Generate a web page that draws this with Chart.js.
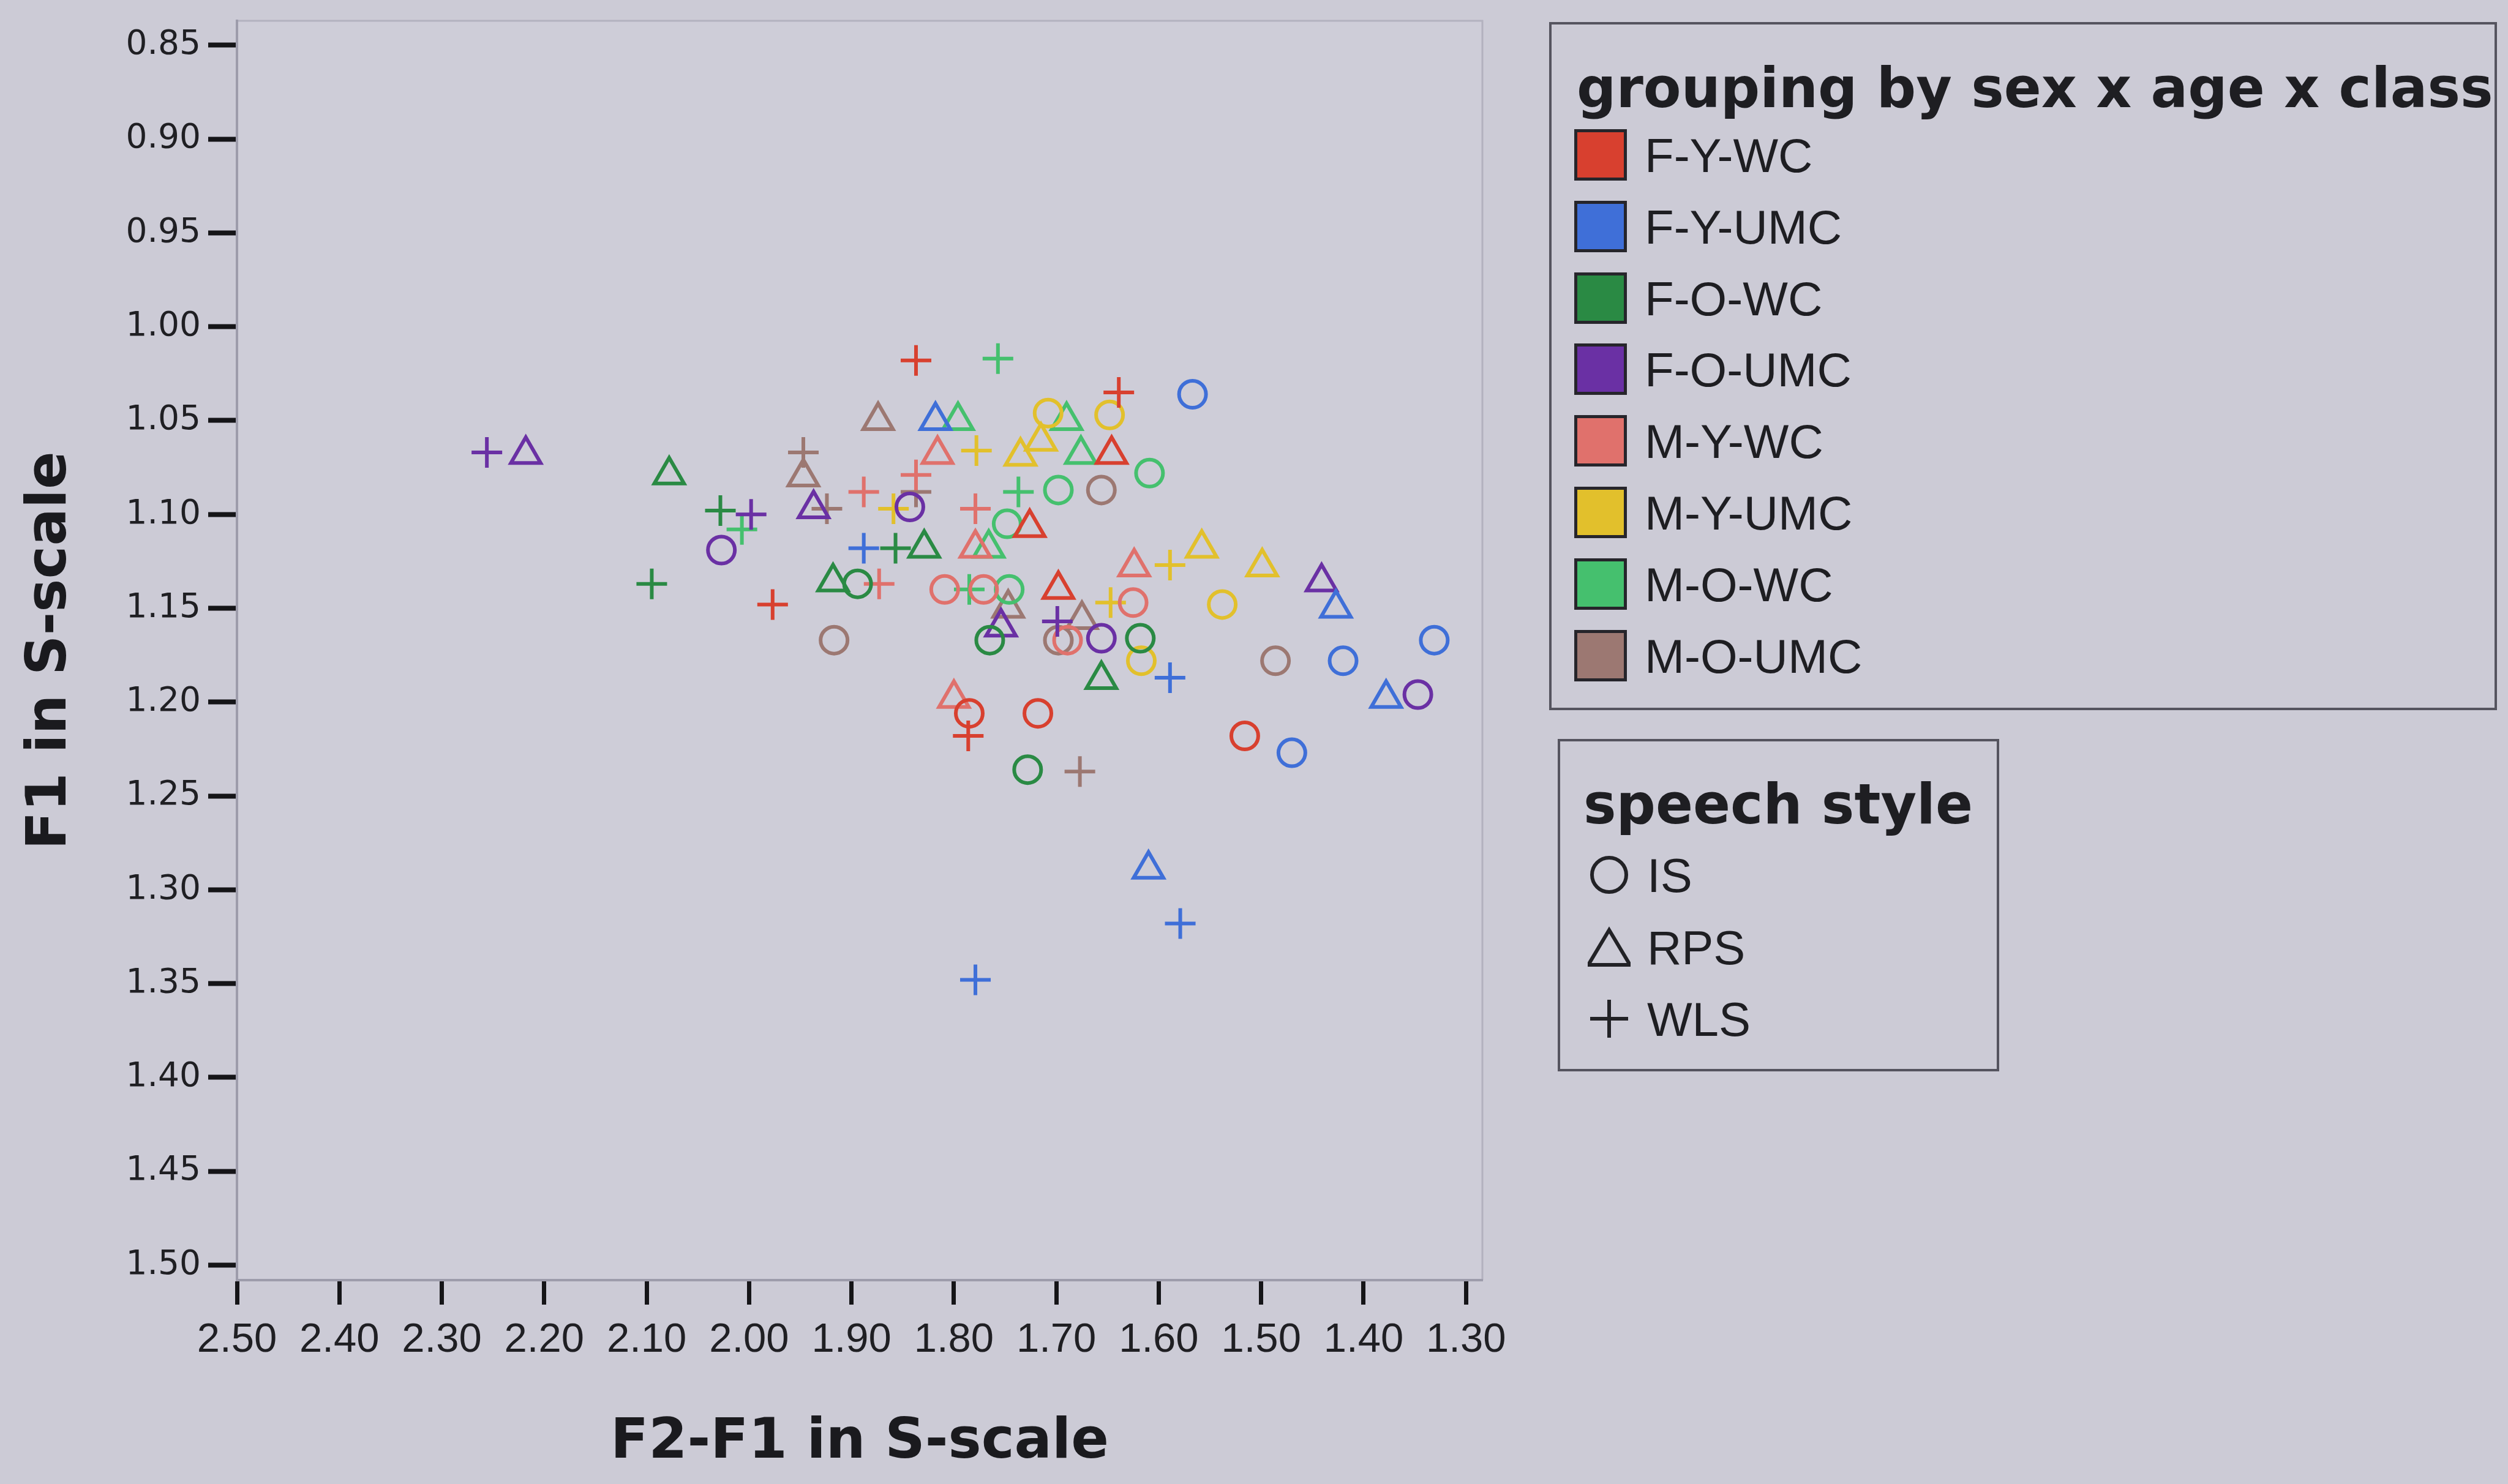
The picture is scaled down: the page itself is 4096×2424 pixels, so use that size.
<!DOCTYPE html>
<html>
<head>
<meta charset="utf-8">
<script src="https://cdn.jsdelivr.net/npm/chart.js@4.4.1/dist/chart.umd.min.js"></script>
<style>
  html, body { margin: 0; padding: 0; background: #cccbd6; }
  #wrap { position: relative; width: 4096px; height: 2424px; overflow: hidden; }
  #grafico { position: absolute; left: 0; top: 0; }
  .caixa { position: absolute; border: 4px solid #55545f; box-sizing: border-box; }
  .txt { position: absolute; white-space: nowrap; line-height: 1; color: #1e1e22; }
  .titulo { font-family: 'DejaVu Sans', sans-serif; font-weight: bold; font-size: 90px; }
  .item { font-family: 'Liberation Sans', Arial, sans-serif; font-size: 78px; }
  .quadrado { position: absolute; width: 86px; height: 84px; border: 5px solid #26252b; box-sizing: border-box; }
</style>
</head>
<body>
<div id="wrap">
  <canvas id="grafico" width="4096" height="2424"></canvas>
  <div id="legenda"></div>
</div>
<script>
// grupos (sexo x idade x classe) e estilos de fala
const grupos = ['F-Y-WC', 'F-Y-UMC', 'F-O-WC', 'F-O-UMC', 'M-Y-WC', 'M-Y-UMC', 'M-O-WC', 'M-O-UMC'];
const coresGrupo = ['#d8402f', '#3f6fd8', '#2a8a44', '#6a30a4', '#e0716c', '#e2c02c', '#45c06e', '#9c7872'];
const estilos = ['IS', 'RPS', 'WLS'];

// pontos [F2-F1, F1]
const fywcIS  = [[1.718, 1.206], [1.516, 1.218], [1.785, 1.206]];
const fywcRPS = [[1.646, 1.068], [1.726, 1.107], [1.698, 1.140]];
const fywcWLS = [[1.837, 1.018], [1.639, 1.035], [1.977, 1.148], [1.786, 1.218]];

const fyumcIS  = [[1.567, 1.036], [1.420, 1.178], [1.331, 1.167], [1.470, 1.227]];
const fyumcRPS = [[1.818, 1.050], [1.427, 1.150], [1.378, 1.198], [1.610, 1.289]];
const fyumcWLS = [[1.888, 1.118], [1.589, 1.187], [1.579, 1.318], [1.779, 1.348]];

const fowcIS  = [[1.894, 1.137], [1.765, 1.167], [1.618, 1.166], [1.728, 1.236]];
const fowcRPS = [[2.078, 1.079], [1.829, 1.118], [1.918, 1.136], [1.656, 1.188]];
const fowcWLS = [[2.028, 1.098], [2.095, 1.137], [1.857, 1.118]];

const foumcIS  = [[2.027, 1.119], [1.843, 1.096], [1.656, 1.166], [1.347, 1.196]];
const foumcRPS = [[2.218, 1.068], [1.937, 1.097], [1.754, 1.160], [1.441, 1.136]];
const foumcWLS = [[2.256, 1.067], [1.998, 1.100], [1.699, 1.157]];

const mywcIS  = [[1.809, 1.140], [1.771, 1.140], [1.689, 1.167], [1.625, 1.147]];
const mywcRPS = [[1.816, 1.068], [1.779, 1.118], [1.624, 1.128], [1.800, 1.198]];
const mywcWLS = [[1.888, 1.088], [1.837, 1.079], [1.779, 1.097], [1.873, 1.137]];

const myumcIS  = [[1.708, 1.046], [1.648, 1.047], [1.538, 1.148], [1.617, 1.178]];
const myumcRPS = [[1.715, 1.061], [1.735, 1.069], [1.558, 1.118], [1.499, 1.128]];
const myumcWLS = [[1.778, 1.066], [1.859, 1.097], [1.589, 1.127], [1.647, 1.147]];

const mowcIS  = [[1.609, 1.078], [1.698, 1.087], [1.748, 1.105], [1.746, 1.140]];
const mowcRPS = [[1.796, 1.050], [1.690, 1.050], [1.676, 1.068], [1.766, 1.118]];
const mowcWLS = [[1.757, 1.017], [1.737, 1.088], [1.785, 1.140], [2.007, 1.108]];

const moumcIS  = [[1.656, 1.087], [1.917, 1.167], [1.486, 1.178], [1.698, 1.167]];
const moumcRPS = [[1.874, 1.050], [1.947, 1.080], [1.747, 1.150], [1.675, 1.156]];
const moumcWLS = [[1.947, 1.067], [1.837, 1.088], [1.677, 1.237], [1.924, 1.097]];

// eixos (ambos invertidos)
const ticksX = [2.50, 2.40, 2.30, 2.20, 2.10, 2.00, 1.90, 1.80, 1.70, 1.60, 1.50, 1.40, 1.30];
const ticksY = [0.85, 0.90, 0.95, 1.00, 1.05, 1.10, 1.15, 1.20, 1.25, 1.30, 1.35, 1.40, 1.45, 1.50];
const limitesX = [1.284, 2.50];
const limitesY = [0.837, 1.508];

const conjuntos = [
  [fywcIS, fywcRPS, fywcWLS],
  [fyumcIS, fyumcRPS, fyumcWLS],
  [fowcIS, fowcRPS, fowcWLS],
  [foumcIS, foumcRPS, foumcWLS],
  [mywcIS, mywcRPS, mywcWLS],
  [myumcIS, myumcRPS, myumcWLS],
  [mowcIS, mowcRPS, mowcWLS],
  [moumcIS, moumcRPS, moumcWLS]
];
const simbolos = ['circle', 'triangle', 'cross'];
const raios = [22, 28, 25];

const datasets = [];
grupos.forEach((g, gi) => {
  estilos.forEach((e, ei) => {
    datasets.push({
      label: g + ' ' + e,
      data: conjuntos[gi][ei].map(p => ({ x: p[0], y: p[1] })),
      pointStyle: simbolos[ei],
      pointRadius: raios[ei],
      pointHoverRadius: raios[ei],
      pointBorderWidth: 6,
      pointBorderColor: coresGrupo[gi],
      borderColor: coresGrupo[gi],
      pointBackgroundColor: 'rgba(0,0,0,0)',
      backgroundColor: 'rgba(0,0,0,0)'
    });
  });
});

// moldura fina em cima e na direita da área do gráfico
const moldura = {
  id: 'moldura',
  beforeDraw(chart) {
    const { ctx, chartArea: a } = chart;
    ctx.save();
    ctx.fillStyle = '#cecdd8';
    ctx.fillRect(a.left, a.top, a.right - a.left, a.bottom - a.top);
    ctx.strokeStyle = '#b3b2bf';
    ctx.lineWidth = 3;
    ctx.beginPath();
    ctx.moveTo(a.left, a.top);
    ctx.lineTo(a.right, a.top);
    ctx.lineTo(a.right, a.bottom);
    ctx.stroke();
    ctx.restore();
  }
};

function semPadding(s) {
  s.paddingLeft = 0; s.paddingRight = 0; s.paddingTop = 0; s.paddingBottom = 0;
}

const ctx = document.getElementById('grafico').getContext('2d');
new Chart(ctx, {
  type: 'scatter',
  data: { datasets: datasets },
  options: {
    responsive: false,
    animation: false,
    layout: { padding: { left: 0, top: 31, right: 1675, bottom: 0 } },
    plugins: { legend: { display: false }, tooltip: { enabled: false } },
    scales: {
      x: {
        type: 'linear',
        reverse: true,
        min: limitesX[0],
        max: limitesX[1],
        afterBuildTicks: s => { s.ticks = ticksX.map(v => ({ value: v })); },
        afterFit: s => { s.height = 333; semPadding(s); },
        ticks: {
          autoSkip: false, maxRotation: 0, padding: 18, color: '#1f1f23',
          font: { family: 'Liberation Sans', size: 67 },
          callback: v => Number(v).toFixed(2)
        },
        grid: { drawOnChartArea: false, drawTicks: true, tickLength: 40, tickWidth: 7, tickColor: '#151518' },
        border: { display: true, color: '#9d9cab', width: 4 },
        title: {
          display: true, text: 'F2-F1 in S-scale', color: '#1a1a1e',
          font: { family: 'DejaVu Sans', size: 91, weight: 'bold' },
          padding: { top: 0, bottom: 12 }
        }
      },
      y: {
        type: 'linear',
        reverse: true,
        min: limitesY[0],
        max: limitesY[1],
        afterBuildTicks: s => { s.ticks = ticksY.map(v => ({ value: v })); },
        afterFit: s => { s.width = 387; semPadding(s); },
        ticks: {
          autoSkip: false, padding: 12, color: '#1f1f23',
          font: { family: 'DejaVu Sans', size: 55 },
          callback: v => Number(v).toFixed(2)
        },
        grid: { drawOnChartArea: false, drawTicks: true, tickLength: 47, tickWidth: 8, tickColor: '#151518' },
        border: { display: true, color: '#9d9cab', width: 4 },
        title: {
          display: true, text: 'F1 in S-scale', color: '#1a1a1e',
          font: { family: 'DejaVu Sans', size: 91, weight: 'bold' },
          padding: { top: 29, bottom: 0 }
        }
      }
    }
  },
  plugins: [moldura]
});

// legendas em html
function montarLegenda() {
  let html = '';
  html += '<div class="caixa" style="left:2530px;top:36px;width:1548px;height:1124px"></div>';
  html += '<div class="txt titulo" style="left:2575px;top:99px">grouping by sex x age x class</div>';
  grupos.forEach((g, i) => {
    const cy = 253 + i * 116.8;
    html += `<div class="quadrado" style="left:2571px;top:${cy - 42}px;background:${coresGrupo[i]}"></div>`;
    html += `<div class="txt item" style="left:2686px;top:${cy - 38}px">${g}</div>`;
  });

  html += '<div class="caixa" style="left:2544px;top:1207px;width:721px;height:543px"></div>';
  html += '<div class="txt titulo" style="left:2586px;top:1269px">speech style</div>';
  const formas = [
    '<circle cx="35" cy="35" r="28"/>',
    '<polygon points="35,7 69,64 1,64"/>',
    '<path d="M35 4 V66 M4 35 H66"/>'
  ];
  estilos.forEach((e, i) => {
    const cy = 1429 + i * 117.5;
    html += `<svg width="70" height="70" style="position:absolute;left:2593px;top:${cy - 35}px">` +
      `<g fill="none" stroke="#222226" stroke-width="6">${formas[i]}</g></svg>`;
    html += `<div class="txt item" style="left:2690px;top:${cy - 38}px">${e}</div>`;
  });
  document.getElementById('legenda').innerHTML = html;
}
montarLegenda();
</script>
</body>
</html>
